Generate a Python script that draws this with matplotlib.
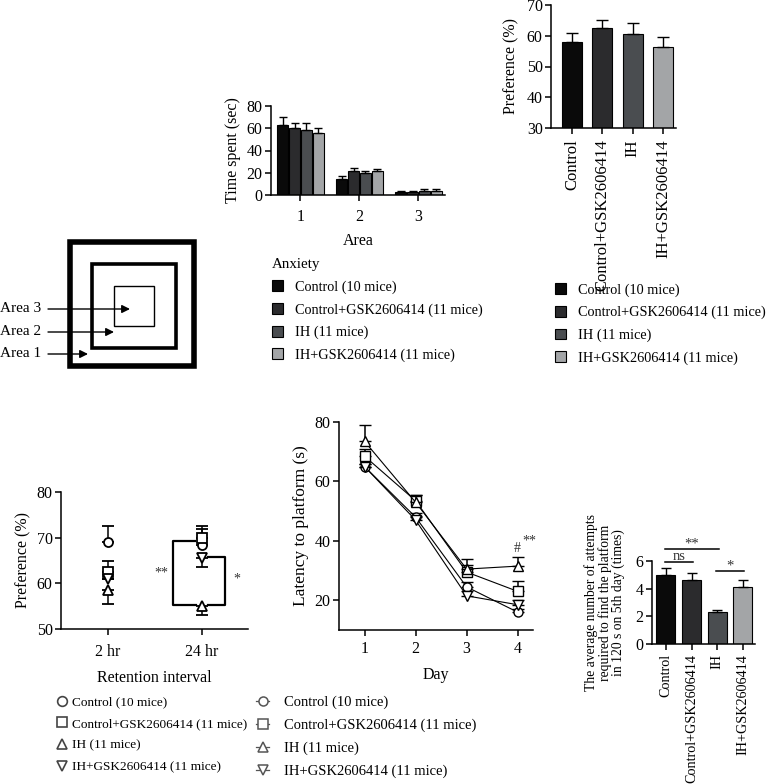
import matplotlib
matplotlib.use("Agg")
import matplotlib.pyplot as plt
from matplotlib.patches import Patch, Rectangle
from matplotlib.lines import Line2D
import numpy as np

plt.rcParams["font.family"] = ["Liberation Serif", "DejaVu Serif"]
plt.rcParams["font.size"] = 10
plt.rcParams["axes.linewidth"] = 1.1
plt.rcParams["xtick.major.width"] = 1.1
plt.rcParams["ytick.major.width"] = 1.1
plt.rcParams["xtick.major.size"] = 4
plt.rcParams["ytick.major.size"] = 4

W, H = 767, 784

# ---- data ----
groups = ["Control", "Control+GSK2606414", "IH", "IH+GSK2606414"]
group_n = ["Control (10 mice)", "Control+GSK2606414 (11 mice)",
           "IH (11 mice)", "IH+GSK2606414 (11 mice)"]
bar_colors = ["#0a0a0a", "#2b2b2d", "#4a4d50", "#a3a5a7"]

# open field: time spent per area
areas = [1, 2, 3]
time_spent = [[63, 14.5, 3.0], [60, 22, 3.0], [58, 19.5, 4.0], [55.5, 21.5, 4.0]]
time_err = [[7, 2.5, 1], [4.5, 2.5, 1], [7, 2.5, 1], [4.5, 2, 1]]

# preference (top right)
pref = [58, 62.5, 60.5, 56.5]
pref_err = [3, 2.5, 3.5, 3]

# novel object / retention
retention = ["2 hr", "24 hr"]
ret_mean = [[69, 68.5], [62.5, 70], [58.5, 55], [61, 65.5]]
ret_up = [[3.5, 3.5], [2.5, 2.5], [0, 0], [0, 0]]
ret_down = [[0, 0], [0, 0], [3, 2], [0, 2]]

# water maze latency
days = [1, 2, 3, 4]
latency = [[65, 48, 24.5, 16], [68.5, 53.5, 29.5, 23],
           [73.5, 53, 30.5, 31.5], [65, 47, 21.5, 18.5]]
latency_err = [[1, 1.5, 1.5, 1], [2.5, 2, 2.5, 3.5],
               [5.5, 2.5, 3.5, 3], [1, 1.5, 1.5, 1.5]]

# attempts on 5th day
attempts = [5.0, 4.65, 2.3, 4.1]
attempts_err = [0.5, 0.5, 0.15, 0.5]

ret_markers = ["o", "s", "^", "v"]


def px(left, top, right, bottom):
    return [left / W, 1 - bottom / H, (right - left) / W, (bottom - top) / H]


def style(ax, xpad=2):
    for s in ["top", "right"]:
        ax.spines[s].set_visible(False)
    ax.tick_params(labelsize=11.5, pad=2)
    ax.tick_params(axis="x", pad=xpad)


fig = plt.figure(figsize=(W / 100, H / 100), dpi=100)

# ---- top left: time spent ----
ax1 = fig.add_axes(px(271, 106, 445, 195))
offs = [-0.3, -0.1, 0.1, 0.3]
for i in range(4):
    x = np.array(areas) + offs[i]
    ax1.bar(x, time_spent[i], 0.19, color=bar_colors[i], edgecolor="black", linewidth=0.8)
    ax1.errorbar(x, time_spent[i], yerr=[np.zeros(3), time_err[i]], fmt="none",
                 ecolor="black", elinewidth=1, capsize=3, capthick=1)
ax1.set_xlim(0.5, 3.45)
ax1.set_ylim(0, 80)
ax1.set_yticks([0, 20, 40, 60, 80])
ax1.set_xticks(areas)
ax1.set_ylabel("Time spent (sec)", fontsize=11.5, labelpad=4)
ax1.set_xlabel("Area", fontsize=11.5, labelpad=6)
style(ax1, xpad=6)

# ---- top right: preference ----
ax2 = fig.add_axes(px(551, 5, 676, 128))
xb = np.arange(4)
ax2.bar(xb, pref, 0.66, color=bar_colors, edgecolor="black", linewidth=0.8)
ax2.errorbar(xb, pref, yerr=[np.zeros(4), pref_err], fmt="none", ecolor="black",
             elinewidth=1, capsize=4, capthick=1)
ax2.set_ylim(30, 70)
ax2.set_xlim(-0.69, 3.43)
ax2.set_yticks([30, 40, 50, 60, 70])
ax2.set_xticks(xb)
ax2.set_xticklabels(groups, rotation=90)
ax2.set_ylabel("Preference (%)", fontsize=11.5, labelpad=5)
style(ax2, xpad=4)
ax2.tick_params(axis="x", labelsize=12)

# ---- maze schematic ----
axm = fig.add_axes(px(0, 230, 200, 380))
axm.set_xlim(0, 200)
axm.set_ylim(380, 230)
axm.axis("off")
squares = [(70, 242, 124, 4.0), (92, 264, 84, 2.6), (114, 286, 40, 1.0)]
for x0, y0, s, lw in squares:
    axm.add_patch(Rectangle((x0, y0), s, s, fill=False, edgecolor="black", linewidth=lw))
arrow_rows = [("Area 3", 309, 130), ("Area 2", 332, 114), ("Area 1", 354, 88)]
for label, y, xe in arrow_rows:
    axm.annotate("", xy=(xe, y), xytext=(48, y),
                 arrowprops=dict(arrowstyle="-|>", color="black", lw=1.0, mutation_scale=12,
                                 shrinkA=0, shrinkB=0))
    axm.text(0, y, label, ha="left", va="center", fontsize=11)

# ---- legends for bar groups ----
handles = [Patch(facecolor=c, edgecolor="black", linewidth=0.8) for c in bar_colors]
leg_kw = dict(loc="upper left", frameon=False, handlelength=0.8, handleheight=0.8,
              handletextpad=0.8, labelspacing=0.64, borderpad=0, borderaxespad=0,
              prop={"size": 10.3})
fig.legend(handles, group_n, bbox_to_anchor=(272 / W, 1 - 258 / H), title="Anxiety",
           alignment="left", title_fontproperties={"size": 10.8}, **leg_kw)
fig.legend(handles, group_n, bbox_to_anchor=(555 / W, 1 - 283 / H), **leg_kw)

# ---- bottom left: retention ----
ax3 = fig.add_axes(px(61, 492, 248, 629))
xr = np.arange(1, 3)
for i in range(4):
    ax3.errorbar(xr, ret_mean[i], yerr=[ret_down[i], ret_up[i]], fmt=ret_markers[i],
                 ms=6.5, mfc="white", mec="black", mew=1.3, ecolor="black",
                 elinewidth=1.1, capsize=4, capthick=1.1, zorder=3 + i)
# significance brackets
ax3.plot([1.93, 1.69, 1.69, 1.94], [69.2, 69.2, 55.3, 55.3], color="black", lw=1.6, zorder=2)
ax3.plot([2.06, 2.245, 2.245, 2.06], [65.8, 65.8, 55.3, 55.3], color="black", lw=1.6, zorder=2)
ax3.text(1.64, 62.3, "**", ha="right", va="center", fontsize=10, color="#333333")
ax3.text(2.33, 61.0, "*", ha="left", va="center", fontsize=10, color="#333333")
ax3.set_xlim(0.5, 2.49)
ax3.set_ylim(50, 80)
ax3.set_yticks([50, 60, 70, 80])
ax3.set_xticks(xr)
ax3.set_xticklabels(retention)
ax3.set_ylabel("Preference (%)", fontsize=11.5, labelpad=4)
ax3.set_xlabel("Retention interval", fontsize=11.5, labelpad=7)
style(ax3, xpad=7)

# ---- bottom middle: latency ----
ax4 = fig.add_axes(px(339, 422, 533, 630))
for i in range(4):
    ax4.errorbar(days, latency[i], yerr=[np.zeros(4), latency_err[i]], fmt="-" + ret_markers[i],
                 ms=6.5, mfc="white", mec="black", mew=1.0, color="black", lw=0.8,
                 ecolor="black", elinewidth=1.1, capsize=4, capthick=1.1, zorder=3 + i)
ax4.text(4.0, 37.5, "#", ha="center", va="center", fontsize=10, color="#333333")
ax4.text(4.1, 40.0, "**", ha="left", va="center", fontsize=10, color="#333333")
ax4.set_xlim(0.5, 4.3)
ax4.set_ylim(10, 80)
ax4.set_yticks([20, 40, 60, 80])
ax4.set_xticks(days)
ax4.set_ylabel("Latency to platform (s)", fontsize=12.5, labelpad=4)
ax4.set_xlabel("Day", fontsize=11.5, labelpad=7)
style(ax4, xpad=4)

# ---- bottom right: attempts ----
ax5 = fig.add_axes(px(652, 561, 755, 644))
ax5.bar(xb, attempts, 0.74, color=bar_colors, edgecolor="black", linewidth=0.8)
ax5.errorbar(xb, attempts, yerr=[np.zeros(4), attempts_err], fmt="none", ecolor="black",
             elinewidth=1, capsize=3.5, capthick=1)
sig = [(0, 1, 5.9, 6.3, "ns"), (0, 2, 6.9, 7.25, "**"), (2, 3, 5.3, 5.6, "*")]
for a, b, y, ty, t in sig:
    ax5.plot([a - 0.05, b + 0.05], [y, y], color="black", lw=1.1, clip_on=False)
    ax5.text((a + b) / 2, ty, t, ha="center", va="center", fontsize=10.5, color="#333333")
ax5.set_xlim(-0.54, 3.47)
ax5.set_ylim(0, 6)
ax5.set_yticks([0, 2, 4, 6])
ax5.set_xticks(xb)
ax5.set_xticklabels(groups, rotation=90)
ax5.set_ylabel("The average number of attempts\nrequired to find the platform\nin 120 s on 5th day (times)",
               fontsize=9.8, labelpad=8, linespacing=0.95)
style(ax5, xpad=3)
ax5.tick_params(axis="x", labelsize=10.2)

# ---- marker legends ----
ret_handles = [Line2D([], [], ls="none", marker=m, ms=7, mfc="white", mec="#444444", mew=1.2)
               for m in ret_markers]
mk_kw = dict(loc="upper left", frameon=False, handlelength=1.0, handletextpad=0.3,
             labelspacing=0.72, borderpad=0, borderaxespad=0, prop={"size": 9.5})
fig.legend(ret_handles, group_n, bbox_to_anchor=(55 / W, 1 - 696 / H), **mk_kw)
day_handles = [Line2D([], [], ls="-", lw=0.9, color="#555555", marker=m, ms=6.5, mfc="white",
                      mec="#555555", mew=1.1) for m in ret_markers]
fig.legend(day_handles, group_n, bbox_to_anchor=(256 / W, 1 - 696 / H),
           **dict(mk_kw, handlelength=0.9, handletextpad=1.0, labelspacing=0.64,
                  prop={"size": 10.5}))

fig.savefig("out.png", dpi=100)
